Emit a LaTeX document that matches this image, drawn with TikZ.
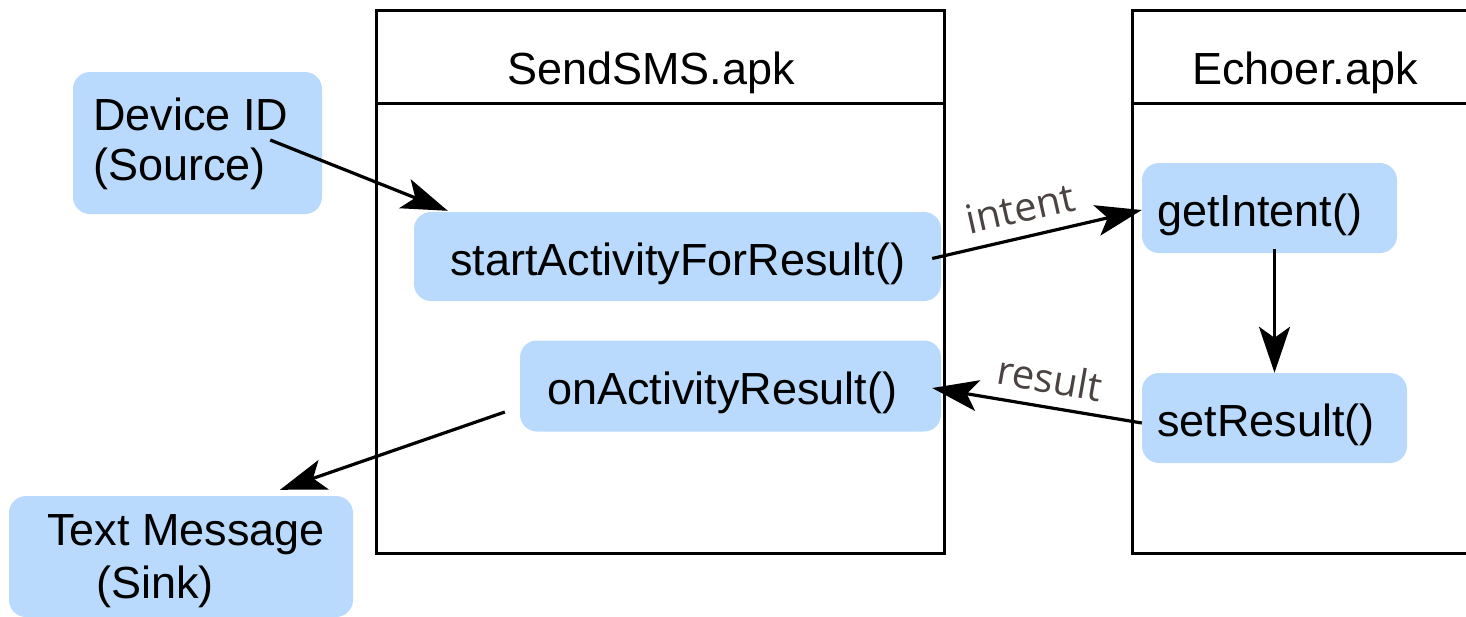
\documentclass[tikz,border=0pt]{standalone}
\usepackage{fontspec}
\setmainfont{Liberation Sans}
\newfontfamily\lblfont{Open Sans}
\usetikzlibrary{arrows.meta,calc}
\definecolor{boxblue}{HTML}{B9DAFC}
\definecolor{lblgrey}{HTML}{4A4341}
\tikzset{
  lane/.style={draw=black, line width=3pt, rectangle, inner sep=0pt},
  fnbox/.style={rectangle, rounded corners=17pt, fill=boxblue, inner ysep=0pt,
    text height=37pt, text depth=0pt, align=left,
    font=\fontsize{45}{54}\selectfont},
  plain/.style={inner sep=0pt, font=\fontsize{45}{54}\selectfont},
  flow/.style={line width=3.2pt, -{Stealth[length=46pt, width=31pt, inset=11pt]}},
  edgelbl/.style={inner sep=0pt, text=lblgrey, font=\lblfont\fontsize{40}{47}\selectfont}
}
\begin{document}
\begin{tikzpicture}[x=1pt, y=-1pt]
\useasboundingbox (0,0) rectangle (1466,616);
\clip (0,0) rectangle (1466,616);

% the two application lanes
\node[lane, minimum width=568pt, minimum height=543pt] (sendsms) at (660,281.5) {};
\node[lane, minimum width=348pt, minimum height=543pt] (echoer) at (1306,281.5) {};
\draw[line width=3pt] (sendsms.west |- 0,103) -- (sendsms.east |- 0,103);
\draw[line width=3pt] (echoer.west |- 0,103) -- (echoer.east |- 0,103);
\node[plain, anchor=base] (sendtitle) at (651,84) {SendSMS.apk};
\node[plain, anchor=base] (echotitle) at (1305,84) {Echoer.apk};

% source and sink
\node[fnbox, minimum width=249pt, minimum height=142pt] (dev) at (197.5,143) {};
\node[plain, anchor=base west] (devl1) at (93,130) {Device ID};
\node[plain, anchor=base west] (devl2) at (93,180) {(Source)};

\node[fnbox, minimum width=344pt, minimum height=121pt] (tm) at (181,556.5) {};
\node[plain, anchor=base west] (tml1) at (47,545) {Text Message};
\node[plain, anchor=base west] (tml2) at (96,598) {(Sink)};

% method calls
\node[fnbox, minimum height=89pt, text width=455pt, inner xsep=36pt] (start) at (677.5,256.5) {startActivityForResult()};
\node[fnbox, minimum height=91pt, text width=367pt, inner xsep=27pt] (oar) at (730.5,386) {onActivityResult()};
\node[fnbox, minimum height=90pt, text width=225pt, inner xsep=15pt] (gi) at (1269.5,208) {getIntent()};
\node[fnbox, minimum height=90pt, text width=235pt, inner xsep=15pt] (sr) at (1274.5,418) {setResult()};

% flow of data
\coordinate (devout) at ($(dev.east)+(-52,-3)$);
\coordinate (startin) at ($(start.north west)+(34,-1)$);
\coordinate (startout) at ($(start.east)+(-9,2)$);
\coordinate (giin) at ($(gi.west)+(0,2)$);
\coordinate (giout) at ($(gi.south -| sr.north)+(0,-4)$);
\coordinate (srout) at ($(sr.west)+(0,5)$);
\coordinate (oarin) at ($(oar.east)+(-9,2)$);
\coordinate (oarout) at ($(oar.west)+(-15,26)$);
\coordinate (tmin) at ($(tm.north)+(99,-6)$);

\draw[flow] (devout) -- (startin);
\draw[flow] (startout) -- (giin);
\draw[flow] (giout) -- (sr.north);
\draw[flow] (srout) -- (oarin);
\draw[flow] (oarout) -- (tmin);

\node[edgelbl, rotate=12.6] (intentlbl) at (1020,208) {intent};
\node[edgelbl, rotate=-10] (resultlbl) at (1050,378) {result};
\end{tikzpicture}
\end{document}
